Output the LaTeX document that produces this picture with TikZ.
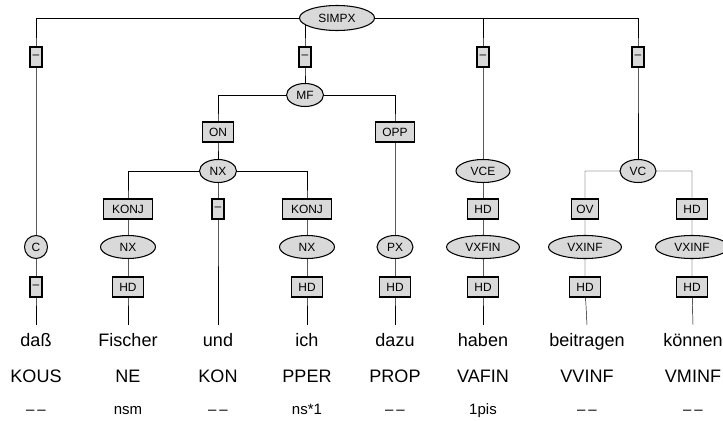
\documentclass[tikz,border=0pt]{standalone}
\usepackage{fontspec}
\setmainfont{Liberation Sans}
\usetikzlibrary{shapes.geometric,backgrounds}
\definecolor{catfill}{RGB}{217,217,217}
\newcommand\nomorph{–\kern2.5pt–}
\tikzset{
  cat/.style={ellipse,draw,fill=catfill,line width=0.9pt,inner sep=0pt,minimum height=0.69cm,font=\fontsize{10.2}{12}\selectfont},
  fct/.style={rectangle,draw,fill=catfill,line width=0.9pt,inner xsep=0.2cm,inner ysep=0pt,minimum height=0.6cm,font=\fontsize{10.2}{12}\selectfont},
  nofct/.style={fct,inner xsep=0pt,minimum width=0.36cm},
  word/.style={anchor=base,text height=0.39cm,inner ysep=0.24cm,font=\fontsize{15.4}{18}\selectfont},
  postag/.style={anchor=base,font=\fontsize{15.4}{18}\selectfont},
  morph/.style={anchor=base,font=\fontsize{12.8}{15}\selectfont},
  branch/.style={line width=0.9pt}
}
\begin{document}
\begin{tikzpicture}[x=0.03cm,y=-0.03cm]
\useasboundingbox (0,0) rectangle (723,421);
\node[cat,minimum width=2.25cm,minimum height=0.75cm] (simpx) at (337,18) {SIMPX};
\node[nofct] (f1) at (36,57) {–};
\node[nofct] (f2) at (305,57) {–};
\node[nofct] (f3) at (483,57) {–};
\node[nofct] (f4) at (638,57) {–};
\node[cat,minimum width=1.11cm] (mf) at (305,95) {MF};
\node[fct] (on) at (218,132) {ON};
\node[fct] (opp) at (395,132) {OPP};
\node[cat,minimum width=1.11cm] (nx) at (218,171) {NX};
\node[cat,minimum width=1.62cm] (vce) at (483,171) {VCE};
\node[cat,minimum width=1.08cm] (vc) at (638,171) {VC};
\node[fct,inner xsep=0.25cm] (konja) at (128,209) {KONJ};
\node[nofct] (f5) at (218,209) {–};
\node[fct,inner xsep=0.25cm] (konjb) at (307,209) {KONJ};
\node[fct] (hdvce) at (483,209) {HD};
\node[fct,inner xsep=0.15cm] (ov) at (585,209) {OV};
\node[fct] (hdvc) at (692,209) {HD};
\node[circle,draw,fill=catfill,line width=0.9pt,inner sep=0pt,minimum size=0.69cm,font=\fontsize{10.2}{12}\selectfont] (c) at (36,247) {C};
\node[cat,minimum width=1.65cm] (nxa) at (128,247) {NX};
\node[cat,minimum width=1.65cm] (nxb) at (307,247) {NX};
\node[cat,minimum width=1.08cm] (px) at (395,247) {PX};
\node[cat,minimum width=2.19cm] (vxfin) at (483,247) {VXFIN};
\node[cat,minimum width=2.19cm] (vxinfa) at (585,247) {VXINF};
\node[cat,minimum width=2.19cm] (vxinfb) at (692,247) {VXINF};
\node[nofct] (f6) at (36,287) {–};
\node[fct] (hda) at (128,287) {HD};
\node[fct] (hdb) at (307,287) {HD};
\node[fct] (hdc) at (395,287) {HD};
\node[fct] (hdd) at (483,287) {HD};
\node[fct] (hde) at (585,287) {HD};
\node[fct] (hdf) at (692,287) {HD};
\foreach \x/\w/\p/\m [count=\i] in {36/daß/KOUS/\nomorph,128/Fischer/NE/nsm,218/und/KON/\nomorph,
    307/ich/PPER/ns*1,395/dazu/PROP/\nomorph,483/haben/VAFIN/1pis,
    587/beitragen/VVINF/\nomorph,693/können/VMINF/\nomorph}{
  \node[word] (w\i) at (\x,346) {\w};
  \node[postag] (p\i) at (\x,382) {\p};
  \node[morph] (m\i) at (\x,414) {\m};
}
\begin{scope}[on background layer,branch]
\draw (simpx.center) -| (f1.center) -- (c.center) -- (f6.center) -- (w1.north);
\draw (simpx.center) -| (f2.center) -- (mf.center);
\draw (simpx.center) -| (f3.center) -- (vce.center) -- (hdvce.center) -- (vxfin.center) -- (hdd.center) -- (w6.north);
\draw (simpx.center) -| (f4.center) -- (vc.center);
\draw (mf.center) -| (on.center) -- (nx.center);
\draw (mf.center) -| (opp.center) -- (px.center) -- (hdc.center) -- (w5.north);
\draw (nx.center) -| (konja.center) -- (nxa.center) -- (hda.center) -- (w2.north);
\draw (nx.center) -- (f5.center) -- (w3.north);
\draw (nx.center) -| (konjb.center) -- (nxb.center) -- (hdb.center) -- (w4.north);
\draw (vc.center) -| (ov.center) -- (vxinfa.center) -- (hde.center) -- (w7.north);
\draw (vc.center) -| (hdvc.center) -- (vxinfb.center) -- (hdf.center) -- (w8.north);
\end{scope}
\end{tikzpicture}
\end{document}
